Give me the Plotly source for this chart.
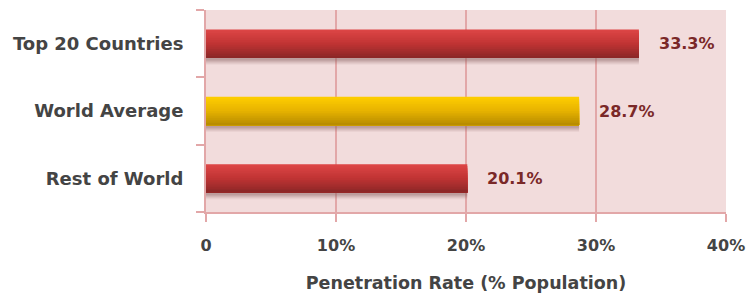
import plotly.graph_objects as go

categories = ["Top 20 Countries", "World Average", "Rest of World"]
values = [33.3, 28.7, 20.1]
value_labels = ["33.3%", "28.7%", "20.1%"]
tick_vals = [0, 10, 20, 30, 40]
tick_text = ["0", "10%", "20%", "30%", "40%"]

def lerp(c1, c2, t):
    return "rgb(%d,%d,%d)" % tuple(round(a + (b - a) * t) for a, b in zip(c1, c2))

red_top, red_mid, red_bot = (222, 70, 70), (192, 52, 52), (138, 38, 38)
yel_top, yel_mid, yel_bot = (255, 206, 0), (230, 178, 0), (182, 138, 0)
grad = {
    "Top 20 Countries": (red_top, red_mid, red_bot),
    "World Average": (yel_top, yel_mid, yel_bot),
    "Rest of World": (red_top, red_mid, red_bot),
}

def color_at(cat, t):
    a, m, b = grad[cat]
    return lerp(a, m, t * 2) if t < 0.5 else lerp(m, b, (t - 0.5) * 2)

fig = go.Figure()
W = 0.42
n = 16
bw = W / n

# soft shadow below bars
for k, alpha in enumerate([0.10, 0.14, 0.18, 0.22]):
    sw = 0.10 - k * 0.02
    fig.add_trace(go.Bar(
        y=categories, x=values, orientation="h", width=sw + 0.02, offset=W / 2 - 0.02,
        marker=dict(color="rgba(140,100,100,%.2f)" % alpha, line=dict(width=0)),
        hoverinfo="skip", showlegend=False,
    ))
# gradient: each band extends to the bar bottom, later bands cover lower part
for i in range(n):
    t = (i + 0.5) / n
    fig.add_trace(go.Bar(
        y=categories, x=values, orientation="h", width=W - i * bw,
        offset=-W / 2 + i * bw,
        marker=dict(color=[color_at(c, t) for c in categories], line=dict(width=0)),
        hoverinfo="skip", showlegend=False,
    ))

for c, v, lab in zip(categories, values, value_labels):
    fig.add_annotation(x=v, y=c, text="<b>%s</b>" % lab, showarrow=False, xanchor="left",
                       xshift=18, font=dict(family="DejaVu Sans", size=16, color="#7a2828"))

pink = "#e2a7a8"
fig.update_layout(
    width=746, height=293, barmode="overlay",
    margin=dict(l=206, r=20, t=10, b=81, autoexpand=False),
    paper_bgcolor="white", plot_bgcolor="#f2dcdc",
    font=dict(family="DejaVu Sans", size=16, color="#444444"),
    xaxis=dict(range=[0, 40], tickvals=tick_vals,
               ticktext=["<b>%s</b>" % t for t in tick_text],
               showgrid=True, gridcolor=pink, gridwidth=2, zeroline=False,
               showline=True, linecolor=pink, linewidth=2, automargin=False,
               ticks="outside", ticklen=8, tickcolor=pink, tickwidth=2, ticklabelstandoff=10,
               tickfont=dict(family="DejaVu Sans", size=16, color="#444444"),
               title=dict(text="<b>Penetration Rate (% Population)</b>", standoff=23,
                          font=dict(family="DejaVu Sans", size=17.5, color="#444444"))),
    yaxis=dict(categoryorder="array", categoryarray=categories, autorange="reversed",
               tickvals=categories, ticktext=["<b>%s</b>" % c for c in categories],
               showline=True, linecolor=pink, linewidth=2, showgrid=False, automargin=False,
               ticks="outside", ticklen=8, tickcolor=pink, tickwidth=2, tickson="boundaries",
               ticklabelstandoff=17,
               tickfont=dict(family="DejaVu Sans", size=18, color="#444444")),
)
fig.write_html("out.html", config={"displayModeBar": False},
               post_script="document.body.style.margin='0';")
